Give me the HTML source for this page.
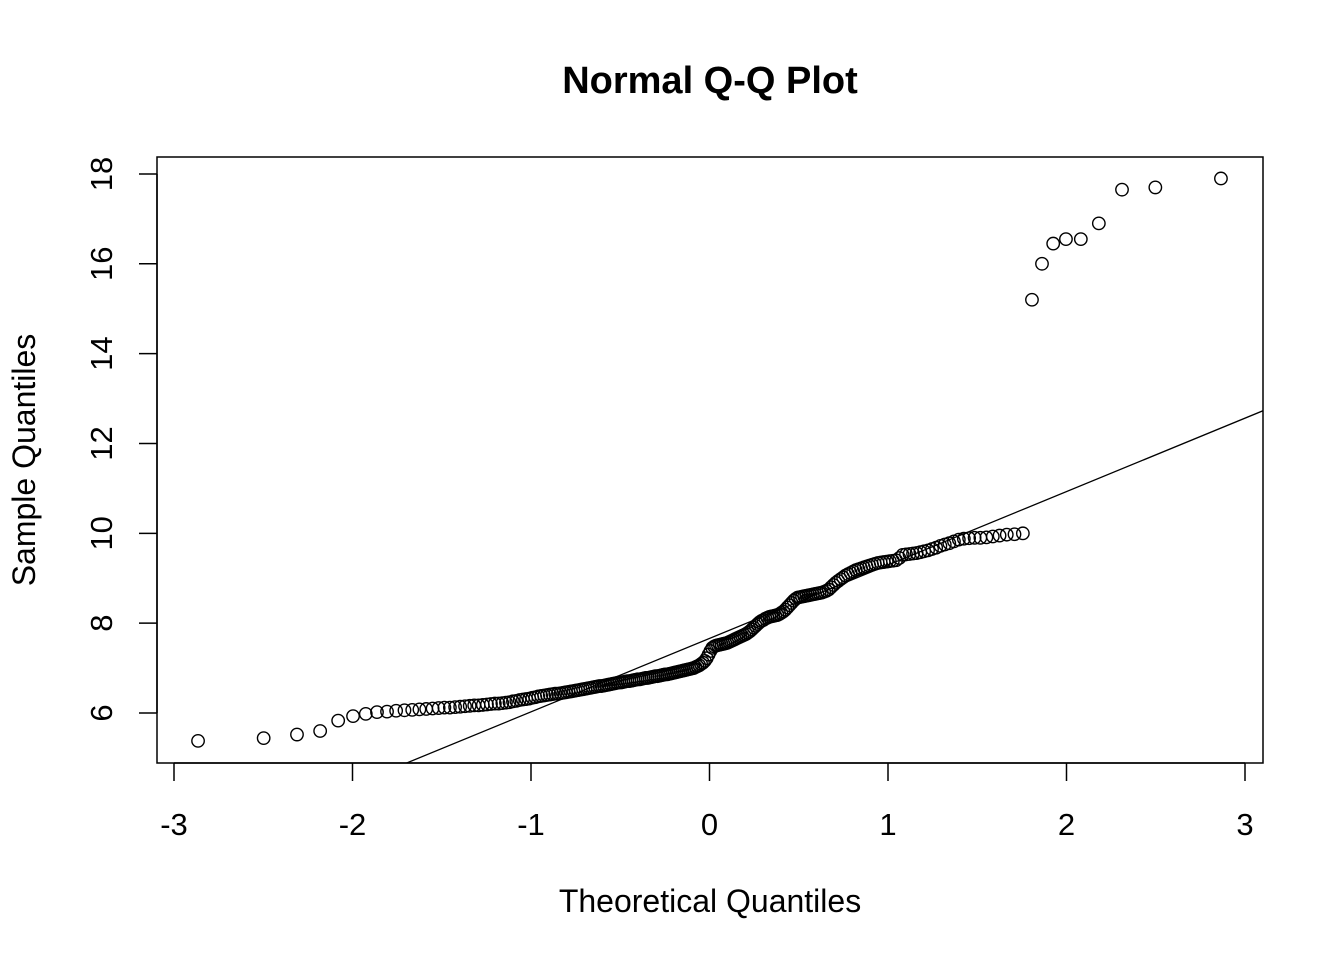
<!DOCTYPE html>
<html><head><meta charset="utf-8"><style>
html,body{margin:0;padding:0;background:#fff;}
svg text{font-family:"Liberation Sans",Arial,sans-serif;fill:#000;}
</style></head><body>
<svg id="chart" width="1344" height="960" viewBox="0 0 1344 960" xmlns="http://www.w3.org/2000/svg">
<rect width="1344" height="960" fill="#fff"/>
<text x="710" y="93" font-size="38" font-weight="bold" text-anchor="middle">Normal Q-Q Plot</text>
<text x="710" y="912" font-size="32" text-anchor="middle">Theoretical Quantiles</text>
<text transform="translate(35,460) rotate(-90)" font-size="32" text-anchor="middle">Sample Quantiles</text>
<g id="xaxis"></g>
<g id="yaxis"></g>
<defs><clipPath id="clip"><rect x="157" y="157" width="1106" height="606"/></clipPath></defs>
<g id="qqline" clip-path="url(#clip)"></g>
<g id="points"></g>
<rect x="157" y="157" width="1106" height="606" fill="none" stroke="#000" stroke-width="1.5"/>
</svg>
<script>
const sampleValues = [
5.38,5.44,5.52,5.60,5.83,5.93,5.98,6.02,6.03,6.05,
6.06,6.07,6.08,6.09,6.10,6.11,6.12,6.12,6.13,6.14,
6.15,6.16,6.17,6.17,6.18,6.19,6.20,6.21,6.21,6.22,
6.23,6.24,6.26,6.27,6.29,6.30,6.31,6.32,6.34,6.35,
6.37,6.38,6.39,6.40,6.41,6.42,6.43,6.43,6.44,6.45,
6.46,6.47,6.48,6.49,6.50,6.51,6.52,6.53,6.54,6.55,
6.56,6.57,6.58,6.59,6.60,6.60,6.61,6.62,6.63,6.64,
6.65,6.66,6.67,6.68,6.68,6.69,6.70,6.71,6.71,6.72,
6.73,6.74,6.75,6.75,6.76,6.77,6.78,6.78,6.79,6.80,
6.81,6.82,6.82,6.83,6.84,6.85,6.86,6.86,6.87,6.88,
6.89,6.90,6.91,6.92,6.93,6.94,6.95,6.96,6.97,6.98,
6.99,7.00,7.02,7.04,7.06,7.09,7.12,7.16,7.22,7.30,
7.38,7.45,7.48,7.50,7.51,7.52,7.53,7.54,7.55,7.56,
7.58,7.60,7.62,7.64,7.66,7.68,7.70,7.72,7.74,7.76,
7.79,7.82,7.86,7.90,7.94,7.98,8.02,8.05,8.07,8.10,
8.12,8.14,8.15,8.16,8.17,8.18,8.20,8.23,8.26,8.30,
8.35,8.40,8.45,8.50,8.54,8.57,8.58,8.59,8.60,8.61,
8.62,8.63,8.64,8.65,8.66,8.67,8.68,8.70,8.72,8.75,
8.80,8.85,8.90,8.94,8.98,9.02,9.06,9.09,9.12,9.15,
9.18,9.20,9.22,9.24,9.26,9.28,9.30,9.32,9.34,9.35,
9.36,9.37,9.38,9.39,9.40,9.45,9.52,9.53,9.54,9.55,
9.56,9.58,9.60,9.62,9.65,9.68,9.72,9.75,9.78,9.82,
9.86,9.88,9.89,9.90,9.90,9.91,9.93,9.95,9.97,9.98,10.00,
15.2,16.0,16.45,16.55,16.55,16.9,17.65,17.7,17.9
];
const xTicks = [-3,-2,-1,0,1,2,3];
const yTicks = [6,8,10,12,14,16,18];

const NS="http://www.w3.org/2000/svg";
function X(v){return 709.5+v*178.5;}
function Y(v){return 713-(v-6)*44.92;}
function qnorm(p){
  const a=[-3.969683028665376e+01,2.209460984245205e+02,-2.759285104469687e+02,1.383577518672690e+02,-3.066479806614716e+01,2.506628277459239e+00];
  const b=[-5.447609879822406e+01,1.615858368580409e+02,-1.556989798598866e+02,6.680131188771972e+01,-1.328068155288572e+01];
  const c=[-7.784894002430293e-03,-3.223964580411365e-01,-2.400758277161838e+00,-2.549671010422283e+00,4.374664141464968e+00,2.938163982698783e+00];
  const d=[7.784695709041462e-03,3.224671290700398e-01,2.445134137142996e+00,3.754408661907416e+00];
  const pl=0.02425;let q,r;
  if(p<pl){q=Math.sqrt(-2*Math.log(p));return (((((c[0]*q+c[1])*q+c[2])*q+c[3])*q+c[4])*q+c[5])/((((d[0]*q+d[1])*q+d[2])*q+d[3])*q+1);}
  if(p>1-pl){q=Math.sqrt(-2*Math.log(1-p));return -(((((c[0]*q+c[1])*q+c[2])*q+c[3])*q+c[4])*q+c[5])/((((d[0]*q+d[1])*q+d[2])*q+d[3])*q+1);}
  q=p-0.5;r=q*q;return (((((a[0]*r+a[1])*r+a[2])*r+a[3])*r+a[4])*r+a[5])*q/(((((b[0]*r+b[1])*r+b[2])*r+b[3])*r+b[4])*r+1);
}
function mk(tag,attrs,parent){const e=document.createElementNS(NS,tag);for(const k in attrs)e.setAttribute(k,attrs[k]);parent.appendChild(e);return e;}

const xa=document.getElementById('xaxis');
mk('line',{x1:X(xTicks[0]),x2:X(xTicks[xTicks.length-1]),y1:763,y2:763,stroke:'#000','stroke-width':1.5},xa);
xTicks.forEach(t=>{
  const l=mk('line',{x1:X(t),x2:X(t),y1:763,y2:781,stroke:'#000','stroke-width':1.5},xa);
  
  
  const tx=mk('text',{x:X(t),y:835,'font-size':31,'text-anchor':'middle'},xa);
  tx.textContent=t;
  
  
});
const ya=document.getElementById('yaxis');
mk('line',{x1:157,x2:157,y1:Y(yTicks[0]),y2:Y(yTicks[yTicks.length-1]),stroke:'#000','stroke-width':1.5},ya);
yTicks.forEach(t=>{
  const l=mk('line',{x1:139,x2:157,y1:Y(t),y2:Y(t),stroke:'#000','stroke-width':1.5},ya);
  
  
  const tx=mk('text',{transform:`translate(112,${Y(t)}) rotate(-90)`,'font-size':31,'text-anchor':'middle'},ya);
  tx.textContent=t;
  
  
});

const n=sampleValues.length;
const sorted=sampleValues.slice().sort((a,b)=>a-b);
const pg=document.getElementById('points');
sorted.forEach((v,i)=>{
  const t=qnorm((i+1-0.5)/n);
  const c=mk('circle',{cx:X(t),cy:Y(v),r:6.2,fill:'none',stroke:'#000','stroke-width':1.4},pg);
  
  
});
function quant(p){const h=(n-1)*p;const lo=Math.floor(h);return sorted[lo]+(h-lo)*(sorted[Math.min(lo+1,n-1)]-sorted[lo]);}
const q1=quant(0.25),q3=quant(0.75),z1=qnorm(0.25),z3=qnorm(0.75);
const slope=(q3-q1)/(z3-z1),inter=q1-slope*z1;
const ln=mk('line',{x1:X(-4),y1:Y(inter+slope*-4),x2:X(4),y2:Y(inter+slope*4),stroke:'#000','stroke-width':1.3},document.getElementById('qqline'));


</script>
</body></html>
